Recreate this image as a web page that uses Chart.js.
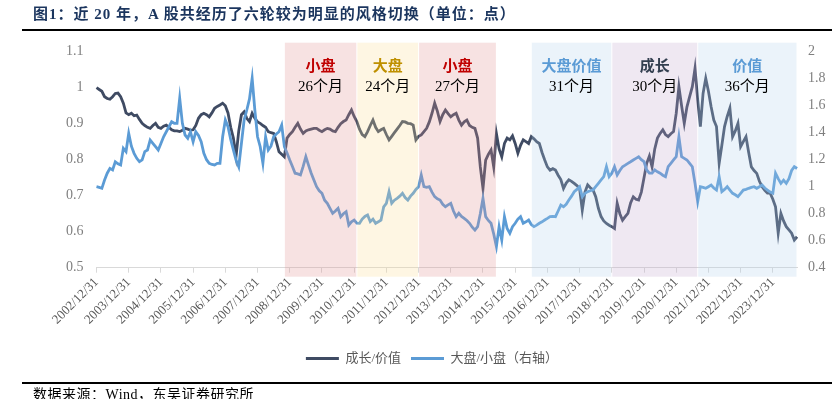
<!DOCTYPE html>
<html><head><meta charset="utf-8">
<script src="https://cdn.jsdelivr.net/npm/chart.js@4"></script>
<style>
html,body{margin:0;padding:0;background:#fff;}
body{width:832px;height:399px;position:relative;overflow:hidden;font-family:'Liberation Serif','Noto Sans CJK SC',serif;}
#title{position:absolute;left:33px;top:6px;font-size:15px;line-height:16px;font-weight:bold;color:#1B355E;white-space:nowrap;letter-spacing:1px;}
#tline{position:absolute;left:22px;right:0;top:29px;height:2px;background:#000;}
#fline{position:absolute;left:22px;right:0;top:382px;height:2px;background:#000;}
#footer{position:absolute;left:33px;top:387px;font-size:14px;line-height:15px;color:#000;white-space:nowrap;letter-spacing:0.5px;}
#c{position:absolute;left:0;top:0;}
</style></head>
<body>
<canvas id="c" width="832" height="399"></canvas>
<div id="title">图1：近 20 年，A 股共经历了六轮较为明显的风格切换（单位：点）</div>
<div id="tline"></div>
<div id="fline"></div>
<div id="footer">数据来源：Wind，东吴证券研究所</div>
<script>
// ---- data (monthly, 2002/12 .. 2024/09) ----
const growthValue = [
1.000,0.995,0.990,0.975,0.970,0.968,0.975,0.984,0.985,0.975,
0.957,0.930,0.925,0.929,0.922,0.924,0.912,0.901,0.895,0.890,
0.887,0.895,0.901,0.890,0.887,0.893,0.896,0.890,0.883,0.880,
0.880,0.878,0.882,0.887,0.885,0.882,0.883,0.895,0.915,0.925,
0.929,0.925,0.919,0.930,0.943,0.948,0.952,0.957,0.950,0.930,
0.890,0.860,0.810,0.880,0.925,0.933,0.915,0.906,0.929,0.915,
0.905,0.901,0.895,0.890,0.878,0.875,0.873,0.850,0.822,0.815,
0.808,0.860,0.870,0.878,0.890,0.901,0.885,0.873,0.880,0.883,
0.885,0.887,0.887,0.882,0.878,0.883,0.887,0.885,0.880,0.878,
0.890,0.900,0.906,0.910,0.925,0.938,0.920,0.906,0.885,0.870,
0.864,0.878,0.895,0.910,0.890,0.878,0.883,0.887,0.870,0.855,
0.865,0.875,0.885,0.895,0.906,0.905,0.901,0.900,0.896,0.855,
0.865,0.869,0.878,0.887,0.905,0.929,0.957,0.935,0.906,0.925,
0.938,0.928,0.919,0.925,0.929,0.910,0.896,0.905,0.910,0.895,
0.890,0.887,0.860,0.780,0.720,0.799,0.815,0.827,0.780,0.873,
0.830,0.808,0.845,0.860,0.855,0.866,0.845,0.818,0.840,0.855,
0.850,0.845,0.864,0.858,0.850,0.845,0.820,0.799,0.780,0.771,
0.775,0.771,0.757,0.745,0.720,0.735,0.744,0.740,0.734,0.728,
0.720,0.660,0.710,0.730,0.722,0.716,0.697,0.665,0.642,0.630,
0.623,0.618,0.614,0.609,0.679,0.650,0.632,0.642,0.651,0.680,
0.697,0.690,0.688,0.710,0.750,0.790,0.810,0.780,0.830,0.860,
0.873,0.883,0.870,0.864,0.872,0.878,0.929,1.003,0.950,0.901,
0.947,0.975,1.003,1.054,0.966,0.892,0.984,1.026,0.990,0.947,
0.910,0.892,0.790,0.840,0.892,0.920,0.943,0.864,0.880,0.901,
0.836,0.850,0.864,0.820,0.780,0.770,0.762,0.740,0.725,0.715,
0.707,0.707,0.690,0.669,0.596,0.651,0.630,0.614,0.605,0.596,
0.577,0.586];
const largeSmall = [
1.000,0.995,0.988,1.050,1.100,1.136,1.124,1.185,1.170,1.161,
1.284,1.260,1.396,1.300,1.247,1.210,1.185,1.198,1.260,1.272,
1.346,1.321,1.296,1.272,1.320,1.370,1.407,1.444,1.481,1.470,
1.469,1.655,1.469,1.383,1.359,1.407,1.333,1.407,1.380,1.333,
1.247,1.200,1.173,1.165,1.161,1.173,1.173,1.370,1.494,1.444,
1.350,1.272,1.198,1.148,1.321,1.494,1.568,1.650,1.803,1.568,
1.370,1.296,1.173,1.370,1.272,1.300,1.370,1.390,1.407,1.457,
1.296,1.250,1.198,1.150,1.100,1.095,1.087,1.150,1.222,1.160,
1.100,1.050,1.000,0.970,0.951,0.900,0.877,0.840,0.803,0.820,
0.840,0.778,0.800,0.815,0.716,0.740,0.753,0.730,0.729,0.760,
0.780,0.790,0.741,0.760,0.729,0.740,0.753,0.850,0.877,0.963,
0.877,0.900,0.914,0.930,0.951,0.920,0.901,0.930,0.951,0.980,
1.000,1.087,1.000,0.995,1.000,0.960,0.926,0.910,0.901,0.870,
0.852,0.865,0.877,0.820,0.778,0.803,0.780,0.766,0.750,0.729,
0.700,0.679,0.704,0.800,0.914,0.778,0.750,0.729,0.650,0.556,
0.704,0.605,0.778,0.690,0.655,0.704,0.729,0.760,0.778,0.729,
0.740,0.753,0.720,0.704,0.715,0.729,0.740,0.753,0.765,0.778,
0.780,0.778,0.820,0.864,0.852,0.870,0.901,0.930,0.963,0.980,
1.000,0.926,0.950,0.963,0.970,0.976,1.000,1.025,1.050,1.074,
1.148,1.074,1.100,1.148,1.087,1.120,1.148,1.160,1.173,1.185,
1.198,1.210,1.222,1.200,1.185,1.124,1.100,1.100,1.124,1.110,
1.100,1.085,1.074,1.148,1.173,1.198,1.222,1.370,1.222,1.210,
1.198,1.173,1.148,1.025,0.889,1.000,0.995,0.988,1.000,1.012,
0.990,0.975,1.074,0.963,0.980,1.000,0.975,0.951,0.940,0.926,
0.950,0.975,0.980,0.988,0.995,1.000,0.988,1.000,1.012,0.990,
0.975,0.960,0.951,1.100,1.060,1.025,1.049,1.025,1.060,1.120,
1.148,1.135];
const seriesNames = ['成长/价值','大盘/小盘（右轴）'];
const tickLabels = ['2002/12/31','2003/12/31','2004/12/31','2005/12/31','2006/12/31','2007/12/31',
'2008/12/31','2009/12/31','2010/12/31','2011/12/31','2012/12/31','2013/12/31','2014/12/31',
'2015/12/31','2016/12/31','2017/12/31','2018/12/31','2019/12/31','2020/12/31','2021/12/31',
'2022/12/31','2023/12/31'];
const regionNames = ['小盘','大盘','小盘','大盘价值','成长','价值'];
const regionMonths = ['26个月','24个月','27个月','31个月','30个月','36个月'];
const regionStart = ['2008/10/31','2011/01/31','2012/12/31','2016/06/30','2018/12/31','2021/08/31'];
const regionEnd   = ['2011/01/31','2012/12/31','2015/05/31','2018/12/31','2021/08/31','2024/09/30'];

// month-end category labels for the monthly observations
const months = [];
for (let k = 0; k < growthValue.length; k++) {
  const m = 11 + k, y = 2002 + Math.floor(m / 12), mo = m % 12 + 1;
  const d = new Date(y, mo, 0).getDate();
  months.push(y + '/' + String(mo).padStart(2, '0') + '/' + d);
}

// ---- styles ----
const regionFill = ['rgba(223,143,143,0.26)','rgba(251,219,147,0.26)','rgba(223,143,143,0.26)',
  'rgba(179,207,235,0.26)','rgba(195,167,203,0.26)','rgba(179,207,235,0.26)'];
const regionTextColor = ['#C00000','#BF9000','#C00000','#5B9BD5','#333F50','#5B9BD5'];
const darkColor = '#3F4B63', blueColor = '#5B9BD5';

const regionPlugin = {
  id: 'regions',
  afterDatasetsDraw(chart) {
    const {ctx, chartArea, scales} = chart;
    const x = scales.x;
    ctx.save();
    regionStart.forEach((s, k) => {
      const x1 = x.getPixelForValue(months.indexOf(s));
      const x2 = x.getPixelForValue(months.indexOf(regionEnd[k]));
      ctx.fillStyle = regionFill[k];
      ctx.fillRect(x1 + 0.5, chartArea.top - 9, x2 - x1 - 1, chartArea.bottom - chartArea.top + 18);
      const cx = (x1 + x2) / 2;
      ctx.textAlign = 'center';
      ctx.textBaseline = 'middle';
      ctx.fillStyle = regionTextColor[k];
      ctx.font = "bold 15px 'Noto Sans CJK SC'";
      ctx.fillText(regionNames[k], cx, chartArea.top + 14);
      ctx.fillStyle = '#000';
      ctx.font = "15px 'Liberation Serif','Noto Sans CJK SC'";
      ctx.fillText(regionMonths[k], cx, chartArea.top + 35);
    });
    ctx.restore();
  }
};

new Chart(document.getElementById('c'), {
  type: 'line',
  data: {
    labels: months,
    datasets: [
      {label: seriesNames[0], data: growthValue, yAxisID: 'y', borderColor: darkColor, backgroundColor: darkColor,
       borderWidth: 2.8, pointRadius: 0, tension: 0, order: 2},
      {label: seriesNames[1], data: largeSmall, yAxisID: 'y1', borderColor: blueColor, backgroundColor: blueColor,
       borderWidth: 2.8, pointRadius: 0, tension: 0, order: 1}
    ]
  },
  options: {
    responsive: false,
    animation: false,
    layout: {padding: {left: 32, right: 0, top: 51.7, bottom: 24}},
    plugins: {
      tooltip: {enabled: false},
      legend: {
        position: 'bottom',
        labels: {
          usePointStyle: true, pointStyle: 'line', pointStyleWidth: 33, padding: 10,
          color: '#595959', font: {family: "'Liberation Serif','Noto Sans CJK SC'", size: 13},
          sort: (a, b) => a.datasetIndex - b.datasetIndex
        }
      }
    },
    scales: {
      x: {
        type: 'category', offset: false,
        grid: {display: true, drawOnChartArea: false, drawTicks: true, tickLength: 5, color: '#D9D9D9'},
        border: {display: true, color: '#D9D9D9'},
        ticks: {autoSkip: false, maxRotation: 45, minRotation: 45, padding: 2, color: '#595959',
                font: {family: "'Liberation Serif'", size: 13}},
        afterBuildTicks: (s) => { s.ticks = s.ticks.filter(t => tickLabels.includes(months[t.value])); },
        afterFit: (s) => { s.height = 74.3; }
      },
      y: {
        position: 'left', min: 0.5, max: 1.1,
        ticks: {stepSize: 0.1, padding: 13, color: '#7F7F7F', font: {family: "'Liberation Serif'", size: 14},
                callback: (v) => String(+v.toFixed(2))},
        grid: {display: false, drawTicks: false},
        border: {display: false},
        afterFit: (s) => { s.width = 64.5; }
      },
      y1: {
        position: 'right', min: 0.4, max: 2.0,
        ticks: {stepSize: 0.2, padding: 11, color: '#7F7F7F', font: {family: "'Liberation Serif'", size: 14},
                callback: (v) => String(+v.toFixed(2))},
        grid: {display: false, drawTicks: false},
        border: {display: false},
        afterFit: (s) => { s.width = 35; }
      }
    }
  },
  plugins: [regionPlugin]
});
</script>
</body></html>
